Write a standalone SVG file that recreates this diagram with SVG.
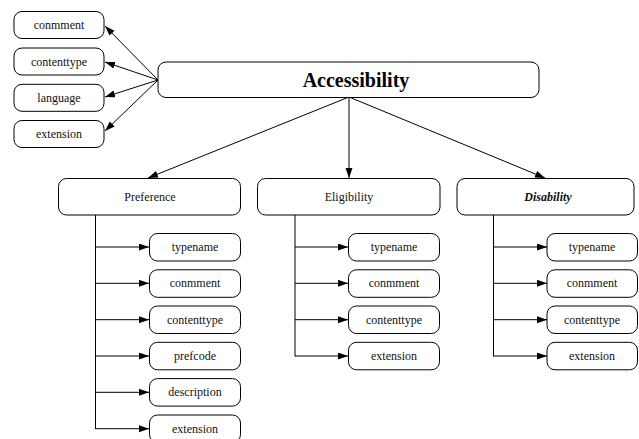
<svg xmlns="http://www.w3.org/2000/svg" width="639" height="439" viewBox="0 0 639 439">
  <defs>
    <marker id="arrow" markerUnits="userSpaceOnUse" markerWidth="11" markerHeight="8" refX="10" refY="3.5" orient="auto">
      <path d="M0,0 L10,3.5 L0,7 Z" fill="#000"/>
    </marker>
    <style>
      .box { fill: #fff; stroke: #000; stroke-width: 1; }
      .lbl { font-family: "Liberation Serif", "Times New Roman", serif; font-size: 12px; fill: #111; text-anchor: middle; }
      .title { font-family: "Liberation Serif", "Times New Roman", serif; font-size: 20px; font-weight: bold; fill: #000; text-anchor: middle; }
      .bi { font-weight: bold; font-style: italic; }
      .edge { fill: none; stroke: #000; stroke-width: 1; }
      .arr { marker-end: url(#arrow); }
    </style>
  </defs>
  <rect width="639" height="439" fill="#fff"/>

  <!-- connectors -->
  <g id="connectors">
    <!-- root to attribute nodes -->
    <line class="edge arr" x1="158" y1="80" x2="105" y2="26"/>
    <line class="edge arr" x1="158" y1="80" x2="105" y2="62"/>
    <line class="edge arr" x1="158" y1="80" x2="105" y2="97"/>
    <line class="edge arr" x1="158" y1="80" x2="105" y2="131"/>
    <!-- root to categories -->
    <line class="edge arr" x1="349" y1="97" x2="148" y2="178"/>
    <line class="edge arr" x1="349" y1="97" x2="349" y2="178"/>
    <line class="edge arr" x1="349" y1="97" x2="545" y2="178"/>
    <!-- Preference tree -->
    <line class="edge" x1="95.5" y1="215" x2="95.5" y2="429"/>
    <line class="edge arr" x1="95.5" y1="247" x2="149" y2="247"/>
    <line class="edge arr" x1="95.5" y1="283.3" x2="149" y2="283.3"/>
    <line class="edge arr" x1="95.5" y1="319.7" x2="149" y2="319.7"/>
    <line class="edge arr" x1="95.5" y1="356" x2="149" y2="356"/>
    <line class="edge arr" x1="95.5" y1="392.3" x2="149" y2="392.3"/>
    <line class="edge arr" x1="95.5" y1="428.7" x2="149" y2="428.7"/>
    <!-- Eligibility tree -->
    <line class="edge" x1="295" y1="215" x2="295" y2="356.5"/>
    <line class="edge arr" x1="295" y1="247" x2="348" y2="247"/>
    <line class="edge arr" x1="295" y1="283.3" x2="348" y2="283.3"/>
    <line class="edge arr" x1="295" y1="319.7" x2="348" y2="319.7"/>
    <line class="edge arr" x1="295" y1="356" x2="348" y2="356"/>
    <!-- Disability tree -->
    <line class="edge" x1="493.5" y1="215" x2="493.5" y2="356.5"/>
    <line class="edge arr" x1="493.5" y1="247" x2="547" y2="247"/>
    <line class="edge arr" x1="493.5" y1="283.3" x2="547" y2="283.3"/>
    <line class="edge arr" x1="493.5" y1="319.7" x2="547" y2="319.7"/>
    <line class="edge arr" x1="493.5" y1="356" x2="547" y2="356"/>
  </g>

  <!-- root -->
  <g id="accessibility">
    <rect class="box" x="158" y="62" width="381" height="35.5" rx="8"/>
    <text class="title" x="356" y="87">Accessibility</text>
  </g>

  <!-- root attributes -->
  <g id="acc-comment">
    <rect class="box" x="14" y="11.5" width="90" height="27" rx="8"/>
    <text class="lbl" x="59" y="29">conmment</text>
  </g>
  <g id="acc-contenttype">
    <rect class="box" x="14" y="48" width="90" height="27" rx="8"/>
    <text class="lbl" x="59" y="65.5">contenttype</text>
  </g>
  <g id="acc-language">
    <rect class="box" x="14" y="84.3" width="90" height="27" rx="8"/>
    <text class="lbl" x="59" y="101.8">language</text>
  </g>
  <g id="acc-extension">
    <rect class="box" x="14" y="120.5" width="90" height="27" rx="8"/>
    <text class="lbl" x="59" y="138">extension</text>
  </g>

  <!-- categories -->
  <g id="preference">
    <rect class="box" x="58.5" y="178.5" width="182" height="36.5" rx="8"/>
    <text class="lbl" x="150" y="201">Preference</text>
  </g>
  <g id="eligibility">
    <rect class="box" x="257.5" y="178.5" width="182.5" height="36.5" rx="8"/>
    <text class="lbl" x="349" y="201">Eligibility</text>
  </g>
  <g id="disability">
    <rect class="box" x="457" y="178.5" width="177" height="36.5" rx="8"/>
    <text class="lbl bi" x="548" y="201">Disability</text>
  </g>

  <!-- Preference children -->
  <g id="pref-typename">
    <rect class="box" x="149.5" y="233.5" width="91" height="27.5" rx="8"/>
    <text class="lbl" x="195" y="251">typename</text>
  </g>
  <g id="pref-comment">
    <rect class="box" x="149.5" y="269.8" width="91" height="27.5" rx="8"/>
    <text class="lbl" x="195" y="287.3">conmment</text>
  </g>
  <g id="pref-contenttype">
    <rect class="box" x="149.5" y="306" width="91" height="27.5" rx="8"/>
    <text class="lbl" x="195" y="323.7">contenttype</text>
  </g>
  <g id="pref-prefcode">
    <rect class="box" x="149.5" y="342.3" width="91" height="27.5" rx="8"/>
    <text class="lbl" x="195" y="360">prefcode</text>
  </g>
  <g id="pref-description">
    <rect class="box" x="149.5" y="378.6" width="91" height="27.5" rx="8"/>
    <text class="lbl" x="195" y="396.3">description</text>
  </g>
  <g id="pref-extension">
    <rect class="box" x="149.5" y="415" width="91" height="27.5" rx="8"/>
    <text class="lbl" x="195" y="432.7">extension</text>
  </g>

  <!-- Eligibility children -->
  <g id="elig-typename">
    <rect class="box" x="348.5" y="233.5" width="91" height="27.5" rx="8"/>
    <text class="lbl" x="394" y="251">typename</text>
  </g>
  <g id="elig-comment">
    <rect class="box" x="348.5" y="269.8" width="91" height="27.5" rx="8"/>
    <text class="lbl" x="394" y="287.3">conmment</text>
  </g>
  <g id="elig-contenttype">
    <rect class="box" x="348.5" y="306" width="91" height="27.5" rx="8"/>
    <text class="lbl" x="394" y="323.7">contenttype</text>
  </g>
  <g id="elig-extension">
    <rect class="box" x="348.5" y="342.3" width="91" height="27.5" rx="8"/>
    <text class="lbl" x="394" y="360">extension</text>
  </g>

  <!-- Disability children -->
  <g id="dis-typename">
    <rect class="box" x="547" y="233.5" width="90.5" height="27.5" rx="8"/>
    <text class="lbl" x="592" y="251">typename</text>
  </g>
  <g id="dis-comment">
    <rect class="box" x="547" y="269.8" width="90.5" height="27.5" rx="8"/>
    <text class="lbl" x="592" y="287.3">conmment</text>
  </g>
  <g id="dis-contenttype">
    <rect class="box" x="547" y="306" width="90.5" height="27.5" rx="8"/>
    <text class="lbl" x="592" y="323.7">contenttype</text>
  </g>
  <g id="dis-extension">
    <rect class="box" x="547" y="342.3" width="90.5" height="27.5" rx="8"/>
    <text class="lbl" x="592" y="360">extension</text>
  </g>
</svg>
